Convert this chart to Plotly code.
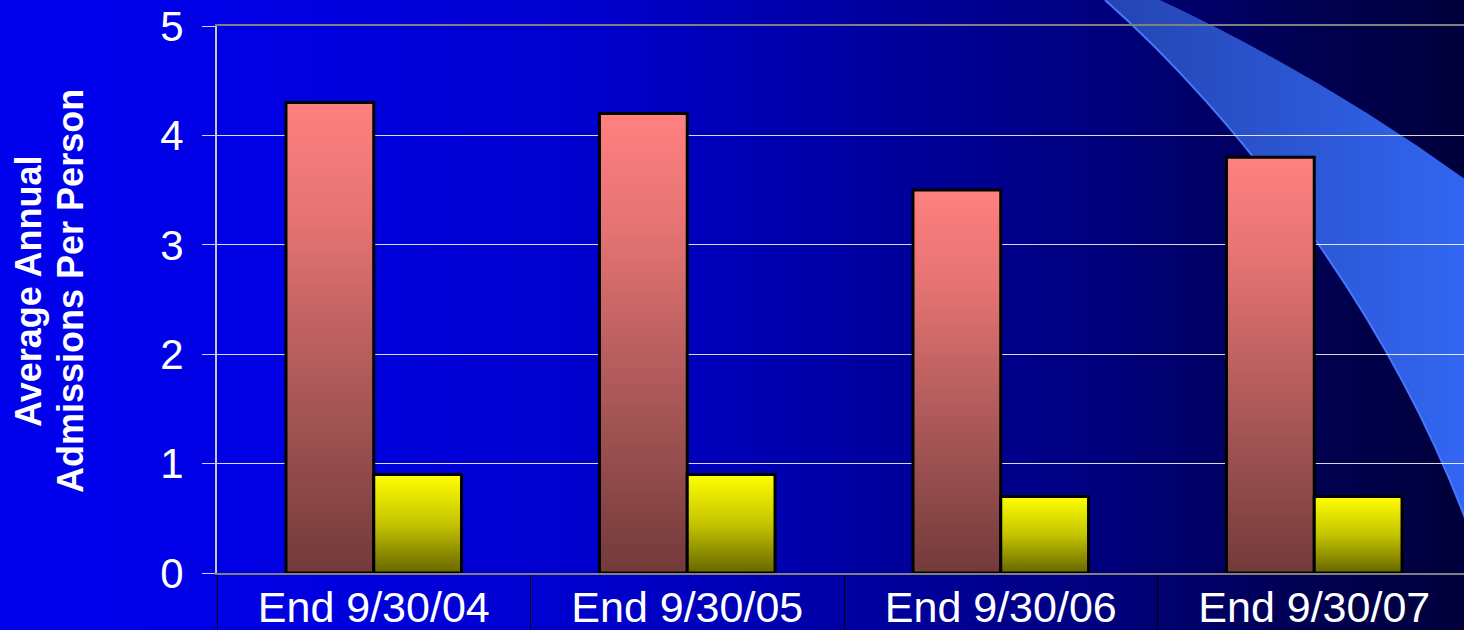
import base64
import plotly.graph_objects as go

# ---- data ----
categories = ["End 9/30/04", "End 9/30/05", "End 9/30/06", "End 9/30/07"]
series_pink = [4.3, 4.2, 3.5, 3.8]
series_yellow = [0.9, 0.9, 0.7, 0.7]
y_ticks = [0, 1, 2, 3, 4, 5]
y_title_lines = ["Average Annual", "Admissions Per Person"]

W, H = 1464, 630
ML, MT, MB, MR = 217, 26, 57, 0
PW, PH = W - ML - MR, H - MT - MB

BAR_W = 0.28
X_MAX = -0.5 + PW / 313.5  # plot area continues past the right edge

PINK_SCALE = [[0, "#733a3a"], [0.35, "#a55555"], [0.75, "#e57373"], [1, "#ff8080"]]
YELLOW_SCALE = [[0, "#666600"], [0.5, "#c4c400"], [1, "#ffff00"]]

# ---- background (gradient + swoosh) as an SVG image ----
svg = f"""<svg xmlns="http://www.w3.org/2000/svg" width="{W}" height="{H}" viewBox="0 0 {W} {H}" preserveAspectRatio="none">
<defs>
<linearGradient id="bg" x1="0" y1="0" x2="{W}" y2="0" gradientUnits="userSpaceOnUse">
<stop offset="0" stop-color="rgb(0,0,238)"/>
<stop offset="0.15" stop-color="rgb(0,0,230)"/>
<stop offset="0.41" stop-color="rgb(0,0,204)"/>
<stop offset="0.61" stop-color="rgb(0,0,156)"/>
<stop offset="0.75" stop-color="rgb(0,0,126)"/>
<stop offset="0.89" stop-color="rgb(0,0,82)"/>
<stop offset="1" stop-color="rgb(0,0,60)"/>
</linearGradient>
<linearGradient id="sw" x1="1105" y1="0" x2="{W}" y2="0" gradientUnits="userSpaceOnUse">
<stop offset="0" stop-color="rgb(36,68,176)"/>
<stop offset="1" stop-color="rgb(50,102,242)"/>
</linearGradient>
</defs>
<rect x="0" y="0" width="{W}" height="{H}" fill="url(#bg)"/>
<path d="M1105,0 C1230,110 1400,320 1480,560 L1480,190 Q1330,80 1160,0 Z" fill="url(#sw)"/>
<path d="M1105,0 C1230,110 1400,320 1480,560" fill="none" stroke="rgb(70,120,255)" stroke-width="2"/>
</svg>"""
src = "data:image/svg+xml;base64," + base64.b64encode(svg.encode()).decode()

fig = go.Figure()

for i, (cat, vp, vy) in enumerate(zip(categories, series_pink, series_yellow)):
    fig.add_trace(go.Scatter(
        x=[i - BAR_W, i - BAR_W, i, i, i - BAR_W],
        y=[0, vp, vp, 0, 0],
        mode="lines", fill="toself",
        fillgradient=dict(type="vertical", colorscale=PINK_SCALE),
        line=dict(color="black", width=3),
        name="Series 1", showlegend=False, hoverinfo="skip"))
    fig.add_trace(go.Scatter(
        x=[i, i, i + BAR_W, i + BAR_W, i],
        y=[0, vy, vy, 0, 0],
        mode="lines", fill="toself",
        fillgradient=dict(type="vertical", colorscale=YELLOW_SCALE),
        line=dict(color="black", width=3),
        name="Series 2", showlegend=False, hoverinfo="skip"))

title_font = dict(size=36, color="white", family="Liberation Sans, Arial, sans-serif",
                  weight="bold")
annotations = []
for line, px in zip(y_title_lines, [28, 70]):
    annotations.append(dict(
        text=line, xref="paper", yref="paper",
        x=(px - ML) / PW, y=(H - MB - 291) / PH,
        xanchor="center", yanchor="middle", textangle=-90, showarrow=False,
        font=title_font))

fig.update_layout(
    width=W, height=H,
    margin=dict(l=ML, r=MR, t=MT, b=MB, pad=0, autoexpand=False),
    paper_bgcolor="#0000b0",
    plot_bgcolor="rgba(0,0,0,0)",
    showlegend=False,
    font=dict(family="Liberation Sans, Arial, sans-serif", color="white"),
    images=[dict(source=src, xref="paper", yref="paper",
                 x=-ML / PW, y=1 + MT / PH, sizex=W / PW, sizey=H / PH,
                 xanchor="left", yanchor="top", sizing="stretch", layer="below")],
    xaxis=dict(
        range=[-0.5, X_MAX], tickmode="array", automargin=False,
        tickvals=list(range(len(categories))), ticktext=categories,
        ticks="", showgrid=False, zeroline=False,
        showline=True, linecolor="#808080", linewidth=2, mirror=True,
        tickfont=dict(size=43, color="white"), ticklabelstandoff=-5,
        minor=dict(tick0=-0.5, dtick=1, ticks="outside", ticklen=57,
                   tickcolor="black", tickwidth=1, showgrid=False),
    ),
    yaxis=dict(
        range=[0, 5], tickmode="array", tickvals=y_ticks, automargin=False,
        ticks="outside", ticklen=13, tickcolor="#d0d0ff", tickwidth=1,
        showgrid=True, gridcolor="rgba(255,255,255,0.85)", gridwidth=1,
        zeroline=False, showline=True, linecolor="#c8c8c8", linewidth=2,
        tickfont=dict(size=42, color="white"), ticklabelstandoff=10,
    ),
    annotations=annotations,
)

fig.write_html("out.html", config={"displayModeBar": False},
               post_script="document.body.style.margin='0';document.body.style.overflow='hidden';")
